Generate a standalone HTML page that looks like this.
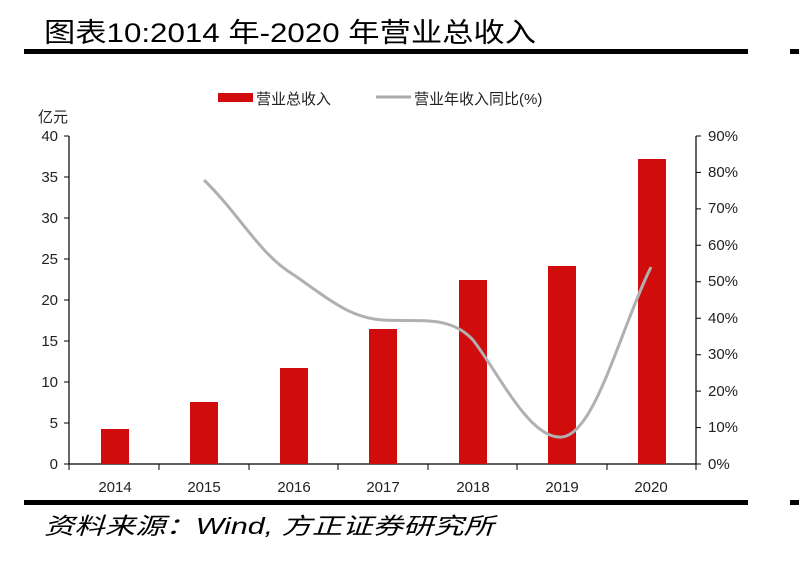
<!DOCTYPE html>
<html><head><meta charset="utf-8"><style>
body{margin:0;background:#fff;width:799px;height:559px;overflow:hidden}
svg text{font-family:"Liberation Sans","Noto Sans CJK SC",sans-serif}
</style></head><body>
<svg width="799" height="559" xmlns="http://www.w3.org/2000/svg">
<text x="44" y="42" font-size="27" font-family="Liberation Serif,'Noto Serif CJK SC',serif" fill="#000" textLength="492" lengthAdjust="spacingAndGlyphs">图表10:2014 年-2020 年营业总收入</text>
<rect x="24" y="49" width="724" height="5" fill="#000"/>
<rect x="790" y="49" width="9" height="5" fill="#000"/>
<rect x="24" y="500" width="724" height="5" fill="#000"/>
<rect x="790" y="500" width="9" height="5" fill="#000"/>
<text x="44" y="534" font-size="23" font-style="italic" fill="#000" textLength="450" lengthAdjust="spacingAndGlyphs">资料来源：Wind, 方正证券研究所</text>
<!-- legend -->
<rect x="218" y="93" width="35" height="9" fill="#d00c0c"/>
<text x="256" y="104" font-size="15" fill="#222">营业总收入</text>
<line x1="376" y1="97" x2="411" y2="97" stroke="#aaa" stroke-width="3"/>
<text x="414" y="104" font-size="15" fill="#222">营业年收入同比(%)</text>
<text x="38" y="122" font-size="15" fill="#222">亿元</text>
<!-- axes -->
<g stroke="#000" stroke-width="1.2">
<line x1="69" y1="136" x2="69" y2="464"/>
<line x1="696" y1="136" x2="696" y2="464"/>
<line x1="69" y1="464" x2="696" y2="464"/>
</g>
<g font-size="15" fill="#222" text-anchor="end">
<text x="58" y="469">0</text><text x="58" y="428">5</text><text x="58" y="387">10</text><text x="58" y="346">15</text><text x="58" y="305">20</text><text x="58" y="264">25</text><text x="58" y="223">30</text><text x="58" y="182">35</text><text x="58" y="141">40</text>
</g>
<g stroke="#000" stroke-width="1">
<path d="M64 464h5M64 423h5M64 382h5M64 341h5M64 300h5M64 259h5M64 218h5M64 177h5M64 136h5"/>
<path d="M696 464h5M696 427.6h5M696 391.1h5M696 354.7h5M696 318.2h5M696 281.8h5M696 245.3h5M696 208.9h5M696 172.4h5M696 136h5"/>
<path d="M69 464v6M159 464v6M249 464v6M338 464v6M428 464v6M517 464v6M607 464v6M696 464v6"/>
</g>
<g font-size="15" fill="#222">
<text x="708" y="469">0%</text><text x="708" y="432">10%</text><text x="708" y="396">20%</text><text x="708" y="359">30%</text><text x="708" y="323">40%</text><text x="708" y="286">50%</text><text x="708" y="250">60%</text><text x="708" y="213">70%</text><text x="708" y="177">80%</text><text x="708" y="141">90%</text>
</g>
<g fill="#d00c0c">
<rect x="101" y="429" width="28" height="35"/>
<rect x="190" y="402" width="28" height="62"/>
<rect x="280" y="368" width="28" height="96"/>
<rect x="369" y="329" width="28" height="135"/>
<rect x="459" y="280" width="28" height="184"/>
<rect x="548" y="266" width="28" height="198"/>
<rect x="638" y="159" width="28" height="305"/>
</g>
<path d="M204 180 C240 215,260 255,294 275 C330 300,350 318,383 320 C420 322,450 315,473 340 C500 375,530 440,562 437 C595 434,620 330,651 267" fill="none" stroke="#b0b0b0" stroke-width="3"/>
<g font-size="15" fill="#222" text-anchor="middle">
<text x="115" y="492">2014</text><text x="204" y="492">2015</text><text x="294" y="492">2016</text><text x="383" y="492">2017</text><text x="473" y="492">2018</text><text x="562" y="492">2019</text><text x="651" y="492">2020</text>
</g>
</svg>
</body></html>
